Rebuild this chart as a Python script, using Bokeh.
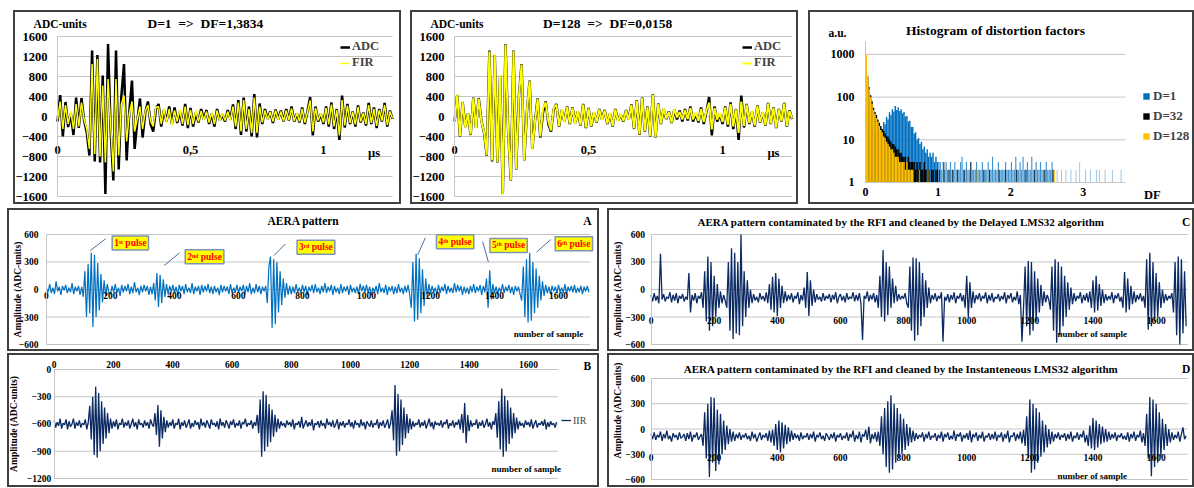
import math
from bokeh.plotting import figure
from bokeh.models import Range1d, FixedTicker, Label, Legend, LegendItem, Spacer
from bokeh.layouts import row, column
from bokeh.embed import file_html
from bokeh.resources import INLINE

# ---------------------------------------------------------------- data
TIME_STEP_US = 0.01
ADC = [
    -100, 430, -400, 290, -210, 60, -370, 380, -230, 370,
    -80, -320, -780, 1320, -900, 1230, -920, 820, -1550, 1450,
    -300, -1280, 1320, -1060, 400, 1050, -880, 100, 720, -650,
    -100, 360, -420, 80, 300, -150, -300, 150, 250, -200,
    130, -100, 200, -150, 180, -130, 100, -180, 250, -230,
    170, -200, 80, -120, 150, -60, 130, -150, 60, -200,
    150, -80, 40, -100, 130, -60, 240, -250, 330, -370,
    380, -300, 200, -400, 450, -420, 260, -150, 150, -50,
    100, -130, 140, -60, 120, -100, 150, -80, 200, -100,
    60, -120, 180, -150, 100, 390, -380, 200, -100, 50,
    -150, 200, -200, 280, -250, 150, -470, 420, -220, 250,
    -150, 100, -200, 220, -120, 80, -180, 270, -150, 180,
    -230, 150, -100, 270, -200, 120, -50,
]
FIR_D1 = [
    -60, 300, -250, 230, -150, 100, -250, 250, -200, 280,
    -60, -250, -650, 1050, -750, 1150, -800, 620, -920, 750,
    -200, -1100, 750, -780, 250, 420, -500, 60, 300, -300,
    -50, 200, -250, 100, 230, -100, -200, 180, 200, -150,
    160, -120, 150, -180, 120, -100, 140, -150, 200, -170,
    130, -150, 120, -100, 110, -80, 100, -120, 80, -150,
    120, -90, 60, -80, 100, -80, 200, -200, 280, -300,
    330, -250, 150, -330, 380, -330, 200, -120, 120, -60,
    90, -100, 120, -70, 100, -90, 120, -70, 160, -90,
    70, -100, 150, -120, 90, 320, -300, 170, -80, 60,
    -120, 170, -160, 240, -200, 130, -380, 330, -180, 220,
    -130, 90, -160, 190, -100, 70, -150, 230, -130, 150,
    -190, 130, -80, 230, -170, 100, -40,
]
FIR_D128 = [
    -110, 440, -390, 290, -220, 60, -360, 370, -240, 360,
    -90, -310, -770, 1300, -880, 1240, -910, 830, -1560, 1440,
    -310, -1270, 1310, -1050, 390, 1040, -880, 110, 710, -660,
    -110, 350, -400, 160, 280, -100, -280, 170, 240, -190,
    140, -110, 190, -140, 170, -140, 110, -170, 240, -220,
    160, -190, 90, -110, 140, -70, 120, -140, 70, -190,
    140, -90, 50, -90, 120, -70, 230, -240, 320, -360,
    370, -290, 190, -390, 440, -410, 250, -140, 160, -40,
    90, -120, 150, -20, 90, -60, 130, -50, 170, -60,
    80, -90, 150, -110, 120, 280, -260, 170, -60, 70,
    -110, 180, -160, 250, -200, 140, -330, 300, -190, 240,
    -130, 110, -180, 210, -110, 90, -170, 260, -140, 170,
    -220, 140, -90, 260, -190, 110, -40,
]
WAVE_Y_TICKS = [-1600, -1200, -800, -400, 0, 400, 800, 1200, 1600]
WAVE_X_TICKS = [0, 0.5, 1]
WAVE_X_LABELS = {0: "0", 0.5: "0,5", 1: "1"}
WAVE_T_END = 1.26

HIST_BIN = 0.02
HIST_D1 = [
    200, 70, 35, 22, 17, 15, 14, 14, 15, 16,
    19, 17, 26, 23, 34, 30, 44, 38, 52, 46,
    62, 50, 58, 47, 52, 42, 45, 35, 36, 27,
    28, 20, 20, 14, 15, 10, 11, 8, 9, 6,
    7, 5, 6, 4, 5, 4, 5, 3, 4, 3,
    3, 3, 2, 3, 2, 3, 2, 2, 3, 2,
    2, 3, 2, 2, 2, 3, 4, 2, 2, 3,
    2, 2, 3, 2, 2, 2, 3, 2, 2, 2,
    3, 2, 2, 2, 3, 2, 2, 4, 2, 2,
    2, 3, 2, 2, 2, 2, 3, 2, 2, 2,
    3, 2, 2, 4, 2, 2, 3, 2, 4, 2,
    2, 3, 2, 2, 4, 2, 2, 3, 2, 2,
    3, 2, 2, 2, 3, 2, 2, 2, 3, 2,
]
HIST_D32 = [
    900, 300, 170, 110, 80, 56, 45, 38, 30, 25,
    21, 18, 16, 14, 12, 12, 10, 9, 8, 8,
    7, 6, 6, 5, 5, 4, 4, 4, 3, 4,
    3, 3, 3, 3, 2, 3, 2, 3, 2, 2,
    3, 2, 2, 2, 1, 2, 2, 1, 2, 2,
]
HIST_D128 = [
    1000, 320, 160, 100, 70, 50, 40, 32, 26, 21,
    17, 15, 12, 11, 9, 8, 7, 6, 6, 5,
    4, 4, 4, 3, 3, 3, 3, 2, 3, 2,
    2, 2, 2,
]
HIST_D1_TAIL_DF = [2.64, 2.70, 2.76, 2.83, 2.90, 2.95, 3.03, 3.10, 3.18, 3.22, 3.30, 3.40, 3.52]
HIST_D1_TAIL_N = [2, 2, 2, 2, 2, 3, 2, 2, 2, 2, 2, 2, 2]
HIST_D32_TAIL_DF = [1.02, 1.08, 1.15, 1.20, 1.27, 1.36, 1.45, 1.52, 1.63, 1.71, 1.84, 1.93, 2.08, 2.21, 2.33, 2.47, 2.58]
HIST_D32_TAIL_N = [2, 3, 2, 2, 2, 2, 3, 2, 2, 2, 2, 2, 2, 2, 2, 2, 2]
HIST_D128_TAIL_DF = [0.74, 0.86, 1.52, 2.60]
HIST_D128_TAIL_N = [2, 2, 2, 2]
HIST_Y_TICKS = [1, 10, 100, 1000]
HIST_X_TICKS = [0, 1, 2, 3]
HIST_DF_END = 3.58
HIST_N_MAX = 2000

SAMPLE_STEP = 5
AERA_A = [
    10, -30, 60, -40, 20, -50, 90, -20, 30, -60, 40, -10, 50, -40, 20, -30, 70, -50, 30, -20,
    40, -60, 30, -80, 200, -300, 280, -260, 400, -410, 380, -300, 290, -230, 170, -140, 100, -70, 60, -40,
    -50, 40, -30, 60, -40, 20, -70, 50, -30, 40, -20, 60, -50, 30, -40, 80, -30, 20, -60, 40,
    -30, 50, -20, 40, -60, 30, -50, 70, -120, 180, -190, 160, -150, 110, -80, 60, -50, 40, -30, 50,
    -40, 30, -60, 50, -20, 40, -50, 60, -30, 20, -40, 70, -50, 30, -20, 40, -60, 50, -30, 40,
    -20, 60, -40, 30, -50, 40, -30, 20, -60, 50, -30, 40, -20, 30, -50, 60, -40, 20, -30, 50,
    -40, 30, -20, 50, -60, 40, -30, 70, -50, 20, -40, 60, -30, 40, -50, 30, -20, 40, -150, 250,
    360, -420, 330, -380, 300, -250, 200, -170, 120, -90, 70, -60, 40, -50, 30, -40, 60, -30, 20, -40,
    50, -30, 40, -60, 30, -20, 50, -40, 60, -30, 20, -50, 40, -30, 70, -40, 30, -20, 50, -60,
    40, -30, 20, -50, 60, -40, 30, -20, 40, -60, 50, -30, 20, -40, 30, -50, 60, -20, 40, -30,
    50, -40, 30, -60, 20, -30, 40, -50, 70, -30, 20, -40, 50, -60, 30, -20, 40, -50, 30, -40,
    60, -30, 20, -50, 40, -30, 50, -60, -200, 300, -350, 390, -330, 340, -260, 220, -180, 120, -90, 60,
    -50, 40, -30, 20, -60, 50, -40, 30, -20, 60, -50, 40, -30, 20, -40, 70, -30, 50, -20, 40,
    -60, 30, -40, 20, -50, 40, -30, 60, -40, 30, -20, 50, -60, 40, -30, 120, -200, 210, -110, 60,
    -40, 30, -50, 20, -30, 60, -40, 30, -20, 50, -40, 30, -60, 40, -20, 30, -50, -120, 250, -300,
    330, -360, 400, -340, 300, -260, 230, -200, 150, -120, 90, -70, 50, -40, 30, -50, 40, -20, 30, -40,
    50, -30, 20, -40, 60, -50, 30, -20, 40, -30, 50, -40, 20, -30, 40, -50, 30, -20, 40, -30,
]
IIR_B = [
    -560, -640, -580, -620, -540, -650, -590, -610, -550, -660, -570, -630, -600, -540, -650, -580, -620, -560, -640, -590,
    -610, -550, -660, -580, -400, -770, -300, -940, -190, -970, -260, -900, -350, -820, -420, -760, -480, -700, -540, -650,
    -570, -630, -550, -660, -590, -610, -540, -640, -580, -620, -560, -650, -600, -540, -630, -580, -660, -550, -610, -590,
    -640, -560, -620, -580, -650, -550, -600, -630, -480, -720, -390, -850, -450, -760, -520, -690, -560, -640, -580, -620,
    -550, -650, -590, -610, -540, -660, -580, -620, -560, -640, -600, -550, -650, -590, -630, -560, -610, -580, -660, -540,
    -620, -580, -640, -560, -600, -650, -550, -610, -590, -630, -570, -660, -540, -620, -580, -640, -560, -600, -650, -570,
    -610, -550, -640, -590, -620, -560, -650, -580, -600, -540, -630, -590, -610, -560, -650, -580, -620, -500, -700, -330,
    -960, -240, -900, -280, -850, -380, -800, -440, -740, -500, -690, -540, -650, -570, -620, -590, -640, -560, -610, -580,
    -630, -550, -660, -590, -610, -570, -640, -520, -650, -600, -560, -630, -580, -620, -550, -670, -590, -610, -570, -640,
    -560, -620, -590, -650, -540, -610, -580, -630, -560, -640, -600, -550, -660, -580, -620, -570, -640, -590, -610, -550,
    -630, -580, -650, -560, -610, -590, -640, -550, -620, -580, -660, -570, -600, -630, -560, -640, -590, -610, -550, -650,
    -580, -620, -560, -640, -600, -550, -650, -590, -450, -780, -170, -950, -270, -900, -330, -830, -420, -760, -490, -700,
    -540, -660, -570, -630, -590, -610, -550, -640, -580, -620, -560, -650, -600, -540, -630, -580, -660, -570, -610, -590,
    -620, -560, -640, -580, -600, -550, -650, -590, -620, -560, -640, -580, -610, -550, -660, -490, -700, -370, -810, -500,
    -680, -560, -630, -590, -610, -550, -650, -580, -620, -560, -640, -600, -540, -630, -580, -660, -570, -610, -480, -750,
    -350, -880, -210, -960, -290, -900, -340, -820, -420, -760, -480, -700, -530, -660, -570, -620, -590, -640, -560, -610,
    -580, -630, -550, -650, -600, -560, -640, -590, -610, -570, -620, -550, -660, -580, -630, -570, -610, -590, -640, -580,
]
DLMS_C = [
    -60, -130, -40, -120, -70, -150, 390, -110, -50, -130, -80, -100, -30, -140, -60, -120, -40, -150, -70, -100,
    -50, -130, -80, -110, 180, -250, -60, -120, -40, -150, -70, -100, -30, -200, 200, -350, 360, -450, 300, -400,
    150, -300, 60, -200, -20, -150, -60, -120, -200, 300, -450, 450, -540, 400, -480, 300, -500, 600, -400, 200,
    -300, 100, -200, 0, -150, -50, -120, -80, -140, -40, -110, -70, -130, -30, -150, 60, -220, 140, -250, 180,
    -290, 120, -200, 40, -150, -20, -130, -60, -110, -40, -140, -70, -100, -30, -160, -60, -120, 20, -200, 190,
    -290, 100, -180, 0, -140, -50, -110, -80, -130, -40, -120, -70, -100, -50, -140, -60, -110, -30, -150, -80,
    -50, -120, -70, -140, -40, -110, -80, -100, -30, -130, -60, -120, -40, -150, -550, -70, -100, -20, -130, -60,
    -110, -40, -140, -60, -200, 150, -300, 430, -350, 300, -280, 250, -200, 120, -150, 40, -130, -50, -110, -70,
    -100, -40, -150, -200, 250, -450, 350, -560, 340, -500, 300, -400, 180, -300, 100, -200, 20, -150, -60, -110,
    -40, -130, -70, -100, -30, -570, -80, -120, -50, -140, -60, -110, -30, -150, -70, -100, -40, -130, -60, -200,
    150, -300, 80, -200, -20, -150, -60, -110, -40, -130, -70, -100, -30, -150, -60, -120, -40, -140, -80, -100,
    -50, -130, -70, -110, -30, -150, -60, -100, -40, -140, -80, -120, -20, -160, -60, -570, -200, 250, -400, 310,
    -500, 300, -450, 200, -350, 120, -250, 50, -180, -20, -140, -60, -110, -220, 250, -450, 330, -580, 300, -500,
    250, -400, 150, -300, 80, -220, 20, -160, -40, -130, -70, -100, -30, -150, -60, -120, -40, -140, -20, -200,
    100, -250, 150, -230, 60, -180, 0, -150, -50, -120, -70, -110, -30, -150, -60, -100, -40, -130, -80, -200,
    190, -250, 120, -220, 40, -160, -20, -140, -60, -110, -40, -130, -70, -200, 330, -440, 400, -400, 300, -350,
    180, -300, 80, -200, 0, -150, -50, -120, -70, -100, -40, -250, 300, -500, 360, -600, 330, -480, 200, -400,
]
ILMS_D = [
    -60, -120, -40, -130, -70, -100, -30, -140, -60, -110, -20, -120, -80, -150, -50, -100, -70, -130, -40, -110,
    -90, -60, -140, -50, -120, -30, -150, -70, -100, -40, -130, -90, -60, -200, 200, -350, 300, -570, 380, -400,
    370, -500, 230, -420, 180, -300, 100, -250, 40, -180, 0, -150, -30, -140, -60, -110, -40, -130, -70, -100,
    -50, -120, -80, -140, -30, -110, -60, -150, -90, -40, -130, -70, -100, -50, -140, -20, -160, -10, -200, 60,
    -250, 100, -280, 80, -230, 50, -180, 20, -150, -20, -130, -50, -110, -70, -140, -40, -120, -80, -100, -50,
    -130, -60, -110, -30, -150, -70, -100, -40, -120, -80, -140, -50, -90, -130, -60, -110, -40, -150, -70, -100,
    -50, -130, -80, -110, -40, -140, -60, -100, -20, -150, -70, -120, -30, -160, -60, -90, -10, -130, 30, -170,
    -60, -120, -40, -150, -30, -200, 150, -300, 250, -450, 330, -520, 400, -480, 300, -400, 250, -350, 180, -300,
    120, -250, 60, -200, 20, -160, -20, -140, -50, -120, -70, -100, -40, -150, -60, -110, -30, -130, -80, -100,
    -50, -140, -70, -110, -30, -150, -60, -100, -40, -130, -80, -120, -20, -140, -60, -90, -40, -150, -70, -110,
    -50, -130, -20, -160, -60, -100, -40, -140, -70, -110, -30, -150, -80, -100, -50, -130, -60, -120, -30, -140,
    -70, -100, -40, -150, -60, -110, -20, -160, -80, -90, -40, -140, -60, -120, -30, -170, -10, -200, 150, -350,
    350, -520, 300, -480, 250, -400, 200, -330, 100, -280, 50, -220, 0, -180, -30, -150, -60, -110, -40, -130,
    -70, -100, -50, -140, -60, -120, -30, -150, -80, -110, -40, -130, -60, -100, -20, -160, -70, -200, 40, -230,
    130, -250, 100, -220, 60, -180, 30, -160, 0, -150, -30, -130, -60, -110, -40, -140, -70, -100, -50, -120,
    -80, -130, -40, -150, -60, -110, -30, -140, -70, -100, -20, -160, -50, -200, 180, -350, 380, -560, 350, -450,
    300, -400, 200, -330, 120, -250, 60, -200, 0, -160, -40, -130, -70, -110, -30, -150, -60, 20, -120, -80,
]
SAMPLE_TICKS = [0, 200, 400, 600, 800, 1000, 1200, 1400, 1600]
AMP_TICKS = [-600, -300, 0, 300, 600]
IIR_TICKS = [-1200, -900, -600, -300, 0]
SAMPLE_END = 1700
PULSE_LABELS = ["1ˢᵗ pulse", "2ⁿᵈ pulse", "3ʳᵈ pulse", "4ᵗʰ pulse", "5ᵗʰ pulse", "6ᵗʰ pulse"]

# ---------------------------------------------------------------- style
FONT = "Liberation Serif"
GRID = "#C4C4C4"
BORDER = "2px solid #404040"
BLUE = "#0070C0"
NAVY = "#0B2A63"
YELLOW = "#FFFF00"
ORANGE = "#FFC000"
YLAB = "Amplitude (ADC-units)"
NB = "\u00a0"


def make_fig(w, h, xr, yr, **kw):
    # the frame covers the whole canvas; axes are drawn at fixed data locations
    p = figure(width=w, height=h, x_range=Range1d(*xr), y_range=Range1d(*yr),
               output_backend="svg", toolbar_location=None,
               min_border_left=0, min_border_right=0, min_border_top=0, min_border_bottom=0, **kw)
    p.outline_line_color = None
    p.xgrid.visible = False
    p.ygrid.visible = False
    return p


def style_axes(p, size, lab_standoff_x, lab_standoff_y):
    for ax in list(p.xaxis) + list(p.yaxis):
        ax.major_tick_line_color = None
        ax.minor_tick_line_color = None
        ax.major_tick_out = 0
        ax.major_tick_in = 0
        ax.major_label_text_font = FONT
        ax.major_label_text_font_style = "bold"
        ax.major_label_text_font_size = f"{size}px"
        ax.major_label_text_color = "black"
        ax.axis_line_color = GRID
    p.xaxis.major_label_standoff = lab_standoff_x
    p.yaxis.major_label_standoff = lab_standoff_y


def grid_lines(p, ticks, x0, x1):
    p.segment(x0=[x0] * len(ticks), y0=ticks, x1=[x1] * len(ticks), y1=ticks,
              line_color=GRID, line_width=1)


def txt(p, x, y, text, size, align="center", baseline="middle", style="bold", color="black", **kw):
    p.add_layout(Label(x=x, y=y, text=text, text_font=FONT, text_font_size=f"{size}px",
                       text_font_style=style, text_align=align, text_baseline=baseline,
                       text_color=color, **kw))


def boxed(p):
    return column(p, styles={"border": BORDER})


# ---------------------------------------------------------------- top waveform panels
T_US = [i * TIME_STEP_US for i in range(len(ADC))]


def wave_panel(fir, fir_width, title, title_x, xr, legend_x):
    p = make_fig(384, 190, xr, (-1720, 2080))
    style_axes(p, 12.5, 29, 10)
    p.yaxis.ticker = FixedTicker(ticks=WAVE_Y_TICKS)
    p.yaxis.fixed_location = 0
    p.yaxis.bounds = (WAVE_Y_TICKS[0], WAVE_Y_TICKS[-1])
    p.xaxis.ticker = FixedTicker(ticks=WAVE_X_TICKS)
    p.xaxis.major_label_overrides = WAVE_X_LABELS
    p.xaxis.fixed_location = 0
    p.xaxis.bounds = (0, WAVE_T_END)
    p.xaxis.axis_line_color = None
    grid_lines(p, WAVE_Y_TICKS, 0, WAVE_T_END)
    r1 = p.line(T_US, ADC, line_color="black", line_width=2.5)
    r2 = p.line(T_US, fir, line_color=YELLOW, line_width=fir_width)
    leg = Legend(items=[LegendItem(label="ADC", renderers=[r1]), LegendItem(label="FIR", renderers=[r2])],
                 location=(legend_x, 132), margin=0, padding=0, spacing=1, glyph_width=10, glyph_height=14,
                 label_height=14, label_standoff=2, background_fill_alpha=0, border_line_color=None,
                 label_text_font=FONT, label_text_font_style="bold", label_text_font_size="12.5px")
    p.add_layout(leg)
    txt(p, title_x, 1860, title, 13.5)
    txt(p, -0.09, 1860, "ADC-units", 11.5, align="left")
    txt(p, 1.19, 0, "µs", 12.5, baseline="top", y_offset=-29)
    return p


p1 = wave_panel(FIR_D1, 1.5, f"D=1{NB}{NB}=>{NB}{NB}DF=1,3834", 0.556, (-0.158, 1.286), 325)
p2 = wave_panel(FIR_D128, 2, f"D=128{NB}{NB}=>{NB}{NB}DF=0,0158", 0.571, (-0.157, 1.276), 330)

# ---------------------------------------------------------------- histogram
p3 = make_fig(382, 190, (-0.758, 4.504), (0.34, 9580), y_axis_type="log")
style_axes(p3, 12, 6, 11)
p3.yaxis.ticker = FixedTicker(ticks=HIST_Y_TICKS)
p3.yaxis.major_label_overrides = {1: "1", 10: "10", 100: "100", 1000: "1000"}
p3.yaxis.fixed_location = 0
p3.yaxis.bounds = (1, HIST_N_MAX)
p3.xaxis.ticker = FixedTicker(ticks=HIST_X_TICKS)
p3.xaxis.fixed_location = 1
p3.xaxis.bounds = (0, HIST_DF_END)
grid_lines(p3, HIST_Y_TICKS[1:], 0, HIST_DF_END)
hump = 50
c1 = [(i + 0.5) * HIST_BIN for i in range(len(HIST_D1))]
rb1 = p3.vbar(x=c1[:hump], top=HIST_D1[:hump], bottom=1, width=HIST_BIN, fill_color=BLUE, line_color=None)
p3.vbar(x=c1[hump:], top=HIST_D1[hump:], bottom=1, width=HIST_BIN * 0.8, fill_color=BLUE, fill_alpha=0.75, line_color=None)
p3.vbar(x=HIST_D1_TAIL_DF, top=HIST_D1_TAIL_N, bottom=1, width=0.012, fill_color=BLUE, fill_alpha=0.45, line_color=None)
c32 = [(i + 0.5) * HIST_BIN for i in range(len(HIST_D32))]
rb32 = p3.vbar(x=c32, top=HIST_D32, bottom=1, width=HIST_BIN, fill_color="black", line_color=None)
p3.vbar(x=HIST_D32_TAIL_DF, top=HIST_D32_TAIL_N, bottom=1, width=0.012, fill_color="black", fill_alpha=0.8, line_color=None)
c128 = [(i + 0.5) * HIST_BIN for i in range(len(HIST_D128))]
rb128 = p3.vbar(x=c128, top=HIST_D128, bottom=1, width=HIST_BIN, fill_color=ORANGE, line_color=None)
p3.vbar(x=HIST_D128_TAIL_DF, top=HIST_D128_TAIL_N, bottom=1, width=0.012, fill_color=ORANGE, line_color=None)
hleg = Legend(items=[LegendItem(label="D=1", renderers=[rb1]), LegendItem(label="D=32", renderers=[rb32]),
                     LegendItem(label="D=128", renderers=[rb128])],
              location=(332, 58), margin=0, padding=0, spacing=4, glyph_width=8, glyph_height=8,
              label_height=14, label_standoff=3, background_fill_alpha=0, border_line_color=None,
              label_text_font=FONT, label_text_font_style="bold", label_text_font_size="13px")
p3.add_layout(hleg)
txt(p3, 1.79, 3630, "Histogram of distortion factors", 13.5)
txt(p3, -0.386, 3100, "a.u.", 11.5)
txt(p3, 3.95, 0.496, "DF", 12.5)

# ---------------------------------------------------------------- AERA panels
X_SAMPLES = [i * SAMPLE_STEP for i in range(len(AERA_A))]


def aera_base(w, h, xr, yr, y_ticks, lab_sx, lab_sy, ylab_x, ylab_y, **kw):
    p = make_fig(w, h, xr, yr, **kw)
    style_axes(p, 9.5, lab_sx, lab_sy)
    p.xaxis.ticker = FixedTicker(ticks=SAMPLE_TICKS)
    p.xaxis.bounds = (0, SAMPLE_END)
    p.yaxis.ticker = FixedTicker(ticks=y_ticks)
    p.yaxis.fixed_location = 0
    p.yaxis.bounds = (y_ticks[0], y_ticks[-1])
    txt(p, ylab_x, ylab_y, YLAB, 9.5, angle=math.pi / 2)
    return p


# A
pa = aera_base(588, 139, (-115.6, 1721.9), (-654.3, 861.5), AMP_TICKS, 2, 8, -90, 0)
pa.xaxis.fixed_location = 0
pa.xaxis.axis_line_color = None
grid_lines(pa, AMP_TICKS, 0, SAMPLE_END)
pa.line(X_SAMPLES, AERA_A, line_color=BLUE, line_width=1.2)
LEAD_X0 = [185, 416, 747, 1184, 1363, 1576]
LEAD_Y0 = [553, 400, 498, 564, 523, 545]
LEAD_X1 = [137, 368, 711, 1160, 1381, 1531]
LEAD_Y1 = [425, 262, 371, 378, 298, 407]
pa.segment(LEAD_X0, LEAD_Y0, LEAD_X1, LEAD_Y1, line_color="#4F6F99", line_width=1)
CALL_X = [262, 494, 842, 1277, 1444, 1648]
CALL_Y = [507, 357, 461, 520, 480, 498]
for cx, cy, lab in zip(CALL_X, CALL_Y, PULSE_LABELS):
    txt(pa, cx, cy, lab, 9.5, color="#FF0000", background_fill_color=YELLOW,
        border_line_color="#7F95B5", border_line_width=1.5, padding=2)
txt(pa, 803, 752, "AERA pattern", 11.5)
txt(pa, 1690, 752, "A", 11.5)
txt(pa, 1569, -480, "number of sample", 9)

# B
pb = aera_base(588, 130, (-150.8, 1833.1), (-1277, 154), IIR_TICKS, 1, 3, -137, -600,
               x_axis_location="above")
pb.xaxis.fixed_location = 0
grid_lines(pb, IIR_TICKS[:-1], 0, SAMPLE_END)
rb = pb.line(X_SAMPLES, IIR_B, line_color=NAVY, line_width=1.3)
bleg = Legend(items=[LegendItem(label="IIR", renderers=[rb])], location=(552, 58), margin=0, padding=0,
              glyph_width=10, glyph_height=14, label_height=14, label_standoff=2,
              background_fill_alpha=0, border_line_color=None,
              label_text_font=FONT, label_text_font_size="10px")
pb.add_layout(bleg)
txt(pb, 1799, 41, "B", 11.5)
txt(pb, 1593, -1100, "number of sample", 9)


def lms_panel(h, yr, data, title, letter, title_y, nos_y, ylab_y):
    p = aera_base(583, h, (-131.5, 1715.2), yr, AMP_TICKS, 0, 6, -104.5, ylab_y)
    p.xaxis.fixed_location = -300
    p.xaxis.axis_line_color = None
    grid_lines(p, AMP_TICKS, 0, SAMPLE_END)
    p.line(X_SAMPLES, data, line_color=NAVY, line_width=1.3)
    txt(p, 792, title_y, title, 11)
    txt(p, 1708, title_y, letter, 11.5, align="right")
    txt(p, 1398, nos_y, "number of sample", 9)
    return p


pc = lms_panel(139, (-654.3, 861.5), DLMS_C,
               "AERA pattern contaminated by the RFI and cleaned by the Delayed LMS32 algorithm",
               "C", 741, -480, 0)
pd = lms_panel(130, (-671, 873), ILMS_D,
               "AERA pattern contaminated by the RFI and cleaned by the Instanteneous LMS32 algorithm",
               "D", 707, -560, 220)

# ---------------------------------------------------------------- layout
layout = column(
    Spacer(height=10),
    row(Spacer(width=13), boxed(p1), Spacer(width=9), boxed(p2), Spacer(width=10), boxed(p3)),
    Spacer(height=4),
    row(Spacer(width=7), boxed(pa), Spacer(width=8), boxed(pc)),
    Spacer(height=2),
    row(Spacer(width=7), boxed(pb), Spacer(width=8), boxed(pd)),
)

open("out.html", "w").write(file_html(layout, INLINE))
